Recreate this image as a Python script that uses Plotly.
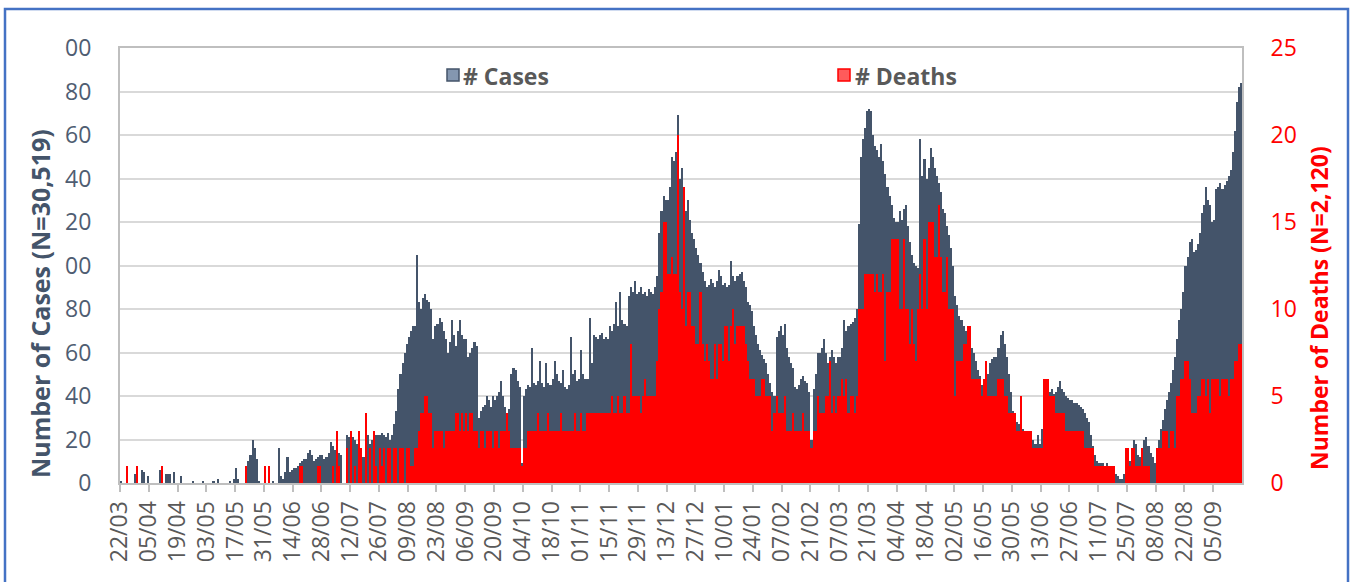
import pandas as pd
import plotly.graph_objects as go

# ---------------- data, one row = 14 days ----------------
start_date = "2020-03-22"

cases = [
    1, 0, 0, 0, 0, 0, 0, 4, 0, 0, 6, 5, 0, 3,
    0, 0, 0, 0, 0, 6, 1, 0, 4, 4, 4, 0, 5, 0,
    0, 3, 0, 0, 0, 0, 0, 1, 0, 0, 0, 0, 1, 0,
    0, 0, 0, 1, 0, 2, 0, 0, 0, 0, 0, 1, 0, 2,
    7, 2, 0, 0, 0, 1, 10, 13, 20, 16, 11, 1, 0, 0,
    0, 0, 0, 0, 1, 0, 0, 16, 3, 2, 5, 12, 5, 6,
    7, 7, 8, 9, 10, 11, 11, 14, 15, 13, 10, 11, 12, 13,
    13, 11, 12, 14, 19, 17, 15, 14, 14, 13, 0, 0, 22, 21,
    22, 21, 20, 18, 22, 15, 12, 20, 22, 18, 20, 23, 22, 22,
    22, 23, 22, 21, 23, 20, 22, 27, 33, 43, 50, 55, 60, 64,
    67, 70, 72, 72, 105, 83, 80, 85, 87, 84, 83, 80, 66, 72,
    73, 76, 74, 70, 66, 60, 65, 75, 68, 63, 70, 75, 68, 66,
    66, 58, 60, 62, 65, 63, 30, 33, 35, 36, 40, 38, 35, 40,
    38, 40, 42, 47, 40, 35, 32, 34, 50, 53, 52, 47, 44, 9,
    40, 43, 45, 44, 62, 46, 45, 47, 56, 46, 44, 55, 46, 45,
    48, 56, 50, 47, 46, 52, 44, 43, 45, 67, 50, 52, 47, 48,
    61, 50, 48, 48, 76, 55, 68, 67, 66, 68, 69, 66, 67, 66,
    72, 70, 73, 83, 72, 88, 75, 73, 72, 86, 90, 88, 93, 87,
    88, 90, 87, 88, 86, 89, 88, 87, 90, 95, 115, 125, 132, 130,
    130, 136, 150, 148, 152, 169, 140, 145, 121, 125, 130, 121, 115, 112,
    108, 105, 101, 97, 93, 90, 91, 94, 92, 90, 93, 98, 95, 91,
    92, 90, 91, 102, 95, 93, 95, 96, 97, 93, 90, 83, 82, 79,
    72, 68, 64, 61, 59, 57, 55, 50, 46, 42, 40, 67, 70, 72,
    68, 73, 62, 58, 55, 53, 44, 43, 45, 48, 49, 47, 46, 42,
    20, 43, 50, 60, 60, 62, 66, 60, 55, 58, 61, 58, 55, 58,
    58, 62, 75, 70, 72, 73, 74, 76, 80, 119, 150, 158, 163, 171,
    172, 171, 160, 155, 153, 150, 156, 148, 142, 136, 132, 128, 122, 120,
    120, 125, 121, 126, 128, 118, 111, 105, 101, 100, 99, 158, 141, 149,
    140, 145, 154, 150, 145, 141, 138, 134, 126, 124, 118, 114, 108, 100,
    86, 82, 77, 75, 72, 70, 70, 67, 62, 60, 56, 52, 49, 45,
    45, 48, 50, 55, 57, 58, 58, 62, 68, 70, 64, 58, 50, 42,
    33, 30, 28, 27, 26, 25, 24, 24, 22, 21, 20, 18, 22, 18,
    25, 45, 46, 44, 42, 43, 41, 42, 44, 47, 43, 42, 40, 39,
    38, 38, 37, 37, 36, 35, 34, 32, 30, 28, 22, 17, 13, 10,
    9, 9, 9, 8, 9, 8, 8, 6, 4, 3, 2, 2, 4, 8,
    9, 10, 16, 20, 18, 13, 12, 11, 20, 21, 17, 14, 12, 9,
    14, 20, 25, 29, 34, 38, 42, 46, 52, 58, 66, 75, 80, 88,
    100, 104, 111, 112, 106, 107, 110, 115, 124, 128, 136, 130, 128, 120,
    121, 135, 136, 138, 135, 137, 139, 141, 144, 152, 162, 175, 182, 184,
]

deaths = [
    0, 0, 0, 1, 0, 0, 0, 0, 1, 0, 0, 0, 0, 0,
    0, 0, 0, 0, 0, 0, 1, 0, 0, 0, 0, 0, 0, 0,
    0, 0, 0, 0, 0, 0, 0, 0, 0, 0, 0, 0, 0, 0,
    0, 0, 0, 0, 0, 0, 0, 0, 0, 0, 0, 0, 0, 0,
    0, 0, 0, 0, 0, 1, 0, 0, 0, 0, 0, 0, 0, 0,
    1, 0, 1, 0, 0, 0, 0, 0, 0, 0, 0, 0, 0, 0,
    0, 0, 0, 1, 1, 0, 0, 0, 0, 0, 0, 0, 1, 1,
    0, 0, 0, 0, 0, 1, 0, 3, 1, 0, 0, 0, 2, 0,
    3, 0, 1, 0, 3, 2, 0, 4, 0, 2, 0, 3, 1, 0,
    2, 1, 2, 0, 2, 2, 0, 2, 2, 0, 2, 2, 0, 2,
    2, 1, 1, 2, 2, 3, 4, 4, 5, 5, 4, 4, 2, 3,
    3, 3, 3, 2, 3, 3, 3, 3, 3, 4, 4, 3, 4, 3,
    4, 3, 4, 4, 3, 3, 2, 3, 3, 2, 3, 3, 3, 2,
    3, 3, 2, 3, 3, 3, 4, 3, 2, 2, 2, 2, 2, 1,
    2, 2, 3, 3, 3, 3, 3, 4, 3, 3, 3, 3, 4, 3,
    3, 3, 3, 3, 4, 3, 3, 3, 3, 3, 3, 4, 3, 3,
    4, 3, 3, 4, 4, 4, 4, 4, 4, 4, 4, 4, 4, 4,
    4, 5, 4, 4, 5, 4, 4, 5, 4, 4, 8, 5, 5, 5,
    5, 4, 5, 6, 5, 5, 5, 5, 5, 7, 10, 11, 15, 15,
    12, 12, 13, 12, 12, 20, 11, 10, 17, 9, 11, 11, 9, 9,
    8, 8, 11, 8, 7, 8, 7, 6, 6, 8, 6, 8, 8, 7,
    9, 9, 7, 9, 10, 8, 9, 9, 9, 9, 8, 7, 6, 6,
    6, 5, 5, 5, 6, 6, 5, 5, 5, 3, 4, 5, 4, 4,
    4, 5, 3, 3, 3, 4, 3, 3, 3, 3, 4, 3, 3, 3,
    2, 3, 3, 5, 4, 4, 4, 5, 5, 7, 4, 5, 4, 5,
    5, 6, 5, 6, 4, 5, 5, 4, 5, 10, 10, 10, 12, 12,
    12, 12, 12, 11, 12, 11, 11, 12, 7, 11, 11, 14, 14, 14,
    14, 10, 10, 14, 10, 10, 8, 10, 8, 7, 10, 12, 10, 14,
    10, 15, 15, 15, 13, 13, 16, 13, 11, 11, 13, 10, 10, 10,
    5, 7, 7, 7, 8, 8, 9, 9, 6, 6, 6, 6, 6, 5,
    6, 7, 5, 5, 5, 5, 5, 6, 6, 6, 5, 5, 4, 4,
    4, 4, 3, 3, 5, 3, 3, 3, 3, 3, 2, 2, 2, 2,
    2, 6, 6, 6, 5, 5, 5, 4, 4, 4, 4, 4, 3, 3,
    3, 3, 3, 3, 3, 3, 3, 2, 2, 2, 2, 2, 1, 1,
    1, 1, 1, 1, 1, 1, 1, 1, 0, 0, 0, 0, 0, 2,
    2, 1, 2, 2, 1, 1, 1, 2, 1, 1, 1, 0, 0, 0,
    2, 2, 2, 3, 3, 3, 2, 3, 3, 2, 5, 5, 6, 6,
    7, 7, 6, 4, 4, 4, 5, 5, 6, 6, 5, 6, 4, 6,
    6, 6, 6, 5, 6, 6, 6, 5, 6, 6, 7, 7, 8, 8,
]

left_tick_values = [0, 20, 40, 60, 80, 100, 120, 140, 160, 180, 200]
left_tick_text = ["0", "20", "40", "60", "80", "00", "20", "40", "60", "80", "00"]
right_tick_values = [0, 5, 10, 15, 20, 25]
right_tick_text = ["0", "5", "10", "15", "20", "25"]

# ---------------- figure ----------------
days = pd.date_range(start_date, periods=len(cases), freq="D")
bar_x = days + pd.Timedelta(hours=12)
tick_days = days[::14]
tick_labels = [d.strftime("%d/%m") for d in tick_days]
end_day = days[-1] + pd.Timedelta(days=1)

W, H = 1351, 582
L, R, T, B = 120, 1242, 48, 483   # plot area in pixels

def xp(px):
    return (px - L) / (R - L)

def yp(py):
    return (B - py) / (B - T)

FONT = "Open Sans"
SLATE = "#44546A"

fig = go.Figure()
fig.add_trace(go.Bar(x=bar_x, y=cases, name="# Cases", marker_color=SLATE,
                     marker_line_width=0, yaxis="y", showlegend=False))
fig.add_trace(go.Bar(x=bar_x, y=deaths, name="# Deaths", marker_color="#FF0000",
                     marker_line_width=0, yaxis="y2", showlegend=False))

fig.update_layout(
    width=W, height=H,
    margin=dict(l=L, r=W - R, t=T, b=H - B, pad=0),
    paper_bgcolor="white", plot_bgcolor="white",
    barmode="overlay", bargap=0,
    font=dict(family=FONT),
    xaxis=dict(
        type="date", range=[days[0], end_day],
        tickmode="array", tickvals=list(tick_days), ticktext=tick_labels,
        tickangle=-90, tickfont=dict(size=23, color="#595959", family=FONT),
        ticks="outside", ticklen=7, tickwidth=1.5, tickcolor="#BFBFBF",
        showline=True, linecolor="#BFBFBF", linewidth=2, mirror=True,
        showgrid=False, zeroline=False,
    ),
    yaxis=dict(
        range=[0, 200], tickmode="array", tickvals=left_tick_values, ticktext=left_tick_text,
        tickfont=dict(size=23, color="#4F5D72", family=FONT),
        ticks="outside", ticklen=22, tickcolor="rgba(0,0,0,0)",
        showgrid=True, gridcolor="#D9D9D9", gridwidth=2,
        showline=True, linecolor="#BFBFBF", linewidth=2, mirror=True,
        zeroline=False,
    ),
    yaxis2=dict(
        range=[0, 25], overlaying="y", side="right",
        tickmode="array", tickvals=right_tick_values, ticktext=right_tick_text,
        tickfont=dict(size=23, color="#FF0000", family=FONT),
        ticks="outside", ticklen=23, tickcolor="rgba(0,0,0,0)",
        showgrid=False, showline=False, zeroline=False,
    ),
)

shapes = [
    # outer blue frame
    dict(type="rect", xref="paper", yref="paper", x0=xp(5), x1=xp(1348), y0=yp(640), y1=yp(9),
         line=dict(color="#4472C4", width=2.5), fillcolor="rgba(0,0,0,0)", layer="above"),
    # legend swatches
    dict(type="rect", xref="paper", yref="paper", x0=xp(447), x1=xp(459), y0=yp(81), y1=yp(69),
         line=dict(color=SLATE, width=1.5), fillcolor="#8497B0"),
    dict(type="rect", xref="paper", yref="paper", x0=xp(838), x1=xp(850), y0=yp(81), y1=yp(69),
         line=dict(color="#FF0000", width=1.5), fillcolor="#FF5B5B"),
]
fig.update_layout(shapes=shapes)

ann = [
    dict(text="# Cases", x=xp(461), y=yp(76), xanchor="left", yanchor="middle",
         font=dict(size=23, color="#595959", family=FONT, weight="bold")),
    dict(text="# Deaths", x=xp(853), y=yp(76), xanchor="left", yanchor="middle",
         font=dict(size=23, color="#595959", family=FONT, weight="bold")),
    dict(text="Number of Cases (N=30,519)", x=xp(40), y=yp(304), textangle=-90,
         xanchor="center", yanchor="middle",
         font=dict(size=25, color=SLATE, family=FONT, weight="bold")),
    dict(text="Number of Deaths (N=2,120)", x=xp(1319), y=yp(308), textangle=-90,
         xanchor="center", yanchor="middle",
         font=dict(size=23, color="#FF0000", family=FONT, weight="bold")),
]
for a in ann:
    a.update(xref="paper", yref="paper", showarrow=False)
fig.update_layout(annotations=ann)

fig.write_html("out.html", config={"displayModeBar": False},
               post_script="document.body.style.margin='0px';document.body.style.overflow='hidden';")
